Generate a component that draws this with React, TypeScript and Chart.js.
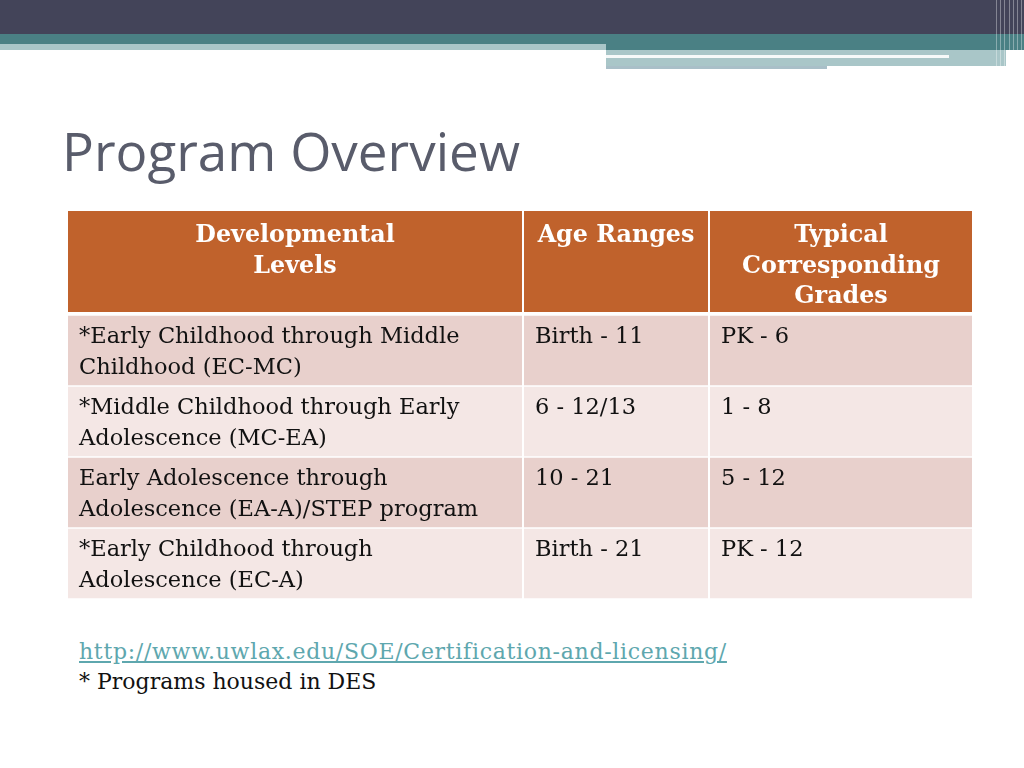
import React, { useEffect, useRef } from "react";
import { Chart, registerables } from "chart.js";

Chart.register(...registerables);

// ---- data ----
const columnHeaders: string[][] = [
  ["Developmental", "Levels"],
  ["Age Ranges"],
  ["Typical", "Corresponding", "Grades"],
];
const rowKeys = ["EC-MC", "MC-EA", "EA-A", "EC-A"];
const developmentalLevels: string[][] = [
  ["*Early Childhood through Middle", "Childhood (EC-MC)"],
  ["*Middle Childhood through Early", "Adolescence (MC-EA)"],
  ["Early Adolescence through", "Adolescence (EA-A)/STEP program"],
  ["*Early Childhood through", "Adolescence (EC-A)"],
];
const ageRanges = ["Birth - 11", "6 - 12/13", "10 - 21", "Birth - 21"];
const typicalGrades = ["PK - 6", "1 - 8", "5 - 12", "PK - 12"];
const linkText = "http://www.uwlax.edu/SOE/Certification-and-licensing/";
const footnoteText = "* Programs housed in DES";
const titleText = "Program Overview";

// ---- layout / style (not data) ----
const TABLE_W = 904;
const TABLE_H = 388;
const HEADER_H = 101;
const COL_SPANS: [number, number][] = [
  [0, 454],
  [456, 640],
  [642, 904],
];
const HEADER_COLOR = "#c0622c";
const ROW_COLORS = ["#e8d0cc", "#f4e7e5", "#e8d0cc", "#f4e7e5"];
const BODY_FONT = '22.5px "DejaVu Serif"';
const HEAD_FONT = 'bold 23.8px "DejaVu Serif"';

const cellText: string[][][] = rowKeys.map((_, i) => [
  developmentalLevels[i],
  [ageRanges[i]],
  [typicalGrades[i]],
]);

const tablePlugin = {
  id: "tableText",
  afterDatasetsDraw(chart: any) {
    const ctx = chart.ctx as CanvasRenderingContext2D;
    const xs = chart.scales.x;
    ctx.save();
    // header
    COL_SPANS.forEach((span, c) => {
      const l = xs.getPixelForValue(span[0]);
      const r = xs.getPixelForValue(span[1]);
      ctx.fillStyle = HEADER_COLOR;
      ctx.fillRect(l, 0, r - l, HEADER_H);
      ctx.fillStyle = "#ffffff";
      ctx.font = HEAD_FONT;
      ctx.textAlign = "center";
      ctx.textBaseline = "alphabetic";
      columnHeaders[c].forEach((line, k) => {
        ctx.fillText(line, (l + r) / 2, 31 + k * 30.5);
      });
    });
    // body text
    ctx.font = BODY_FONT;
    ctx.textAlign = "left";
    ctx.fillStyle = "#111111";
    chart.data.datasets.forEach((_: any, c: number) => {
      const meta = chart.getDatasetMeta(c);
      meta.data.forEach((bar: any, i: number) => {
        const left = Math.min(bar.x, bar.base);
        const rowTop = bar.y - bar.height / 2;
        cellText[i][c].forEach((line, k) => {
          ctx.fillText(line, left + 11, rowTop + 28 + k * 30.5);
        });
      });
    });
    ctx.restore();
  },
};

function TableChart() {
  const ref = useRef<HTMLCanvasElement | null>(null);
  useEffect(() => {
    if (!ref.current) return;
    const chart = new Chart(ref.current, {
      type: "bar",
      data: {
        labels: rowKeys,
        datasets: COL_SPANS.map((span, c) => ({
          label: columnHeaders[c].join(" "),
          data: rowKeys.map(() => [span[0], span[1]] as any),
          backgroundColor: ROW_COLORS,
          borderColor: "#ffffff",
          borderWidth: { top: 1, bottom: 1, left: 0, right: 0 },
          borderSkipped: false,
          grouped: false,
          categoryPercentage: 1,
          barPercentage: 1,
        })),
      },
      options: {
        indexAxis: "y",
        responsive: false,
        animation: false,
        layout: { padding: { top: HEADER_H + 3, left: 0, right: 0, bottom: 0 } },
        scales: {
          x: { type: "linear", min: 0, max: TABLE_W, display: false },
          y: { type: "category", display: false },
        },
        plugins: { legend: { display: false }, tooltip: { enabled: false } },
      } as any,
      plugins: [tablePlugin],
    });
    return () => chart.destroy();
  }, []);
  return (
    <canvas
      ref={ref}
      width={TABLE_W}
      height={TABLE_H}
      style={{ position: "absolute", left: 68, top: 211, width: TABLE_W, height: TABLE_H }}
    />
  );
}

const abs = (l: number, t: number, w: number, h: number, bg: string): React.CSSProperties => ({
  position: "absolute",
  left: l,
  top: t,
  width: w,
  height: h,
  background: bg,
});

export default function App() {
  const stripes = [996, 1000, 1004, 1009, 1013, 1017, 1021];
  return (
    <div
      style={{
        position: "fixed",
        left: 0,
        top: 0,
        width: 1024,
        height: 768,
        background: "#ffffff",
        overflow: "hidden",
      }}
    >
      <div style={abs(0, 0, 1024, 34, "#434459")} />
      <div style={abs(0, 34, 1024, 10, "#4a8084")} />
      <div style={abs(606, 44, 418, 6, "#4a8084")} />
      <div style={abs(0, 44, 606, 6, "#a9c6c8")} />
      <div style={abs(606, 50, 400, 16, "#a9c6c8")} />
      <div style={abs(606, 55, 343, 3, "#f6f9f9")} />
      <div style={abs(606, 66, 221, 3, "#a9bfc8")} />
      {stripes.map((x, i) => (
        <div key={i} style={abs(x, 0, 1, 69, "rgba(255,255,255,0.35)")} />
      ))}
      <div
        style={{
          position: "absolute",
          left: 62,
          top: 124,
          fontFamily: '"Open Sans"',
          fontSize: 53,
          lineHeight: "53px",
          color: "#595c6b",
          whiteSpace: "nowrap",
        }}
      >
        {titleText}
      </div>
      <TableChart />
      <div
        style={{
          position: "absolute",
          left: 79,
          top: 637,
          fontFamily: '"DejaVu Serif"',
          fontSize: 22,
          lineHeight: "30px",
          color: "#111111",
          whiteSpace: "nowrap",
        }}
      >
        <div>
          <a href="#" style={{ color: "#5ea7ae", textDecoration: "underline", letterSpacing: "0.7px" }}>
            {linkText}
          </a>
        </div>
        <div>{footnoteText}</div>
      </div>
    </div>
  );
}
